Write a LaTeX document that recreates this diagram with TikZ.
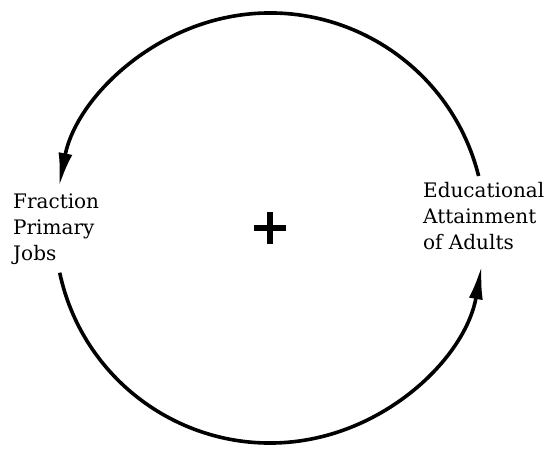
\documentclass[tikz,border=0pt]{standalone}
\usepackage{fontspec}
\setmainfont{DejaVu Serif}
\usepackage{tikz}
\usetikzlibrary{arrows.meta, calc}
\tikzset{
  varname/.style  = {inner sep=0pt, align=left, anchor=north west,
                     font=\fontsize{20}{26}\selectfont},
  link/.style     = {-{Latex[length=34pt, width=14pt]}, line width=3.6pt, black},
  sign/.style     = {line width=6pt, black},
}

\begin{document}
\begin{tikzpicture}[x=1pt, y=1pt]
  \useasboundingbox (0,0) rectangle (549,448);
  \coordinate (hub) at (270,220);

  \node[varname] (jobs)   at (13,254) {Fraction\\Primary\\Jobs};
  \node[varname] (adults) at (423,266) {Educational\\Attainment\\of Adults};

  % points where the loop leaves and meets each variable
  \coordinate (adultsout) at ($(hub)+(14:215)$);
  \coordinate (jobsout)   at ($(hub)+(192:215)$);

  \draw[link] (adultsout) arc[start angle=14,  end angle=169, radius=215];
  \draw[link] (jobsout)   arc[start angle=192, end angle=350, radius=215];

  % loop polarity
  \draw[sign] ($(hub)+(-16,0)$) -- ($(hub)+(16,0)$);
  \draw[sign] ($(hub)+(0,-16)$) -- ($(hub)+(0,16)$);
\end{tikzpicture}
\end{document}
